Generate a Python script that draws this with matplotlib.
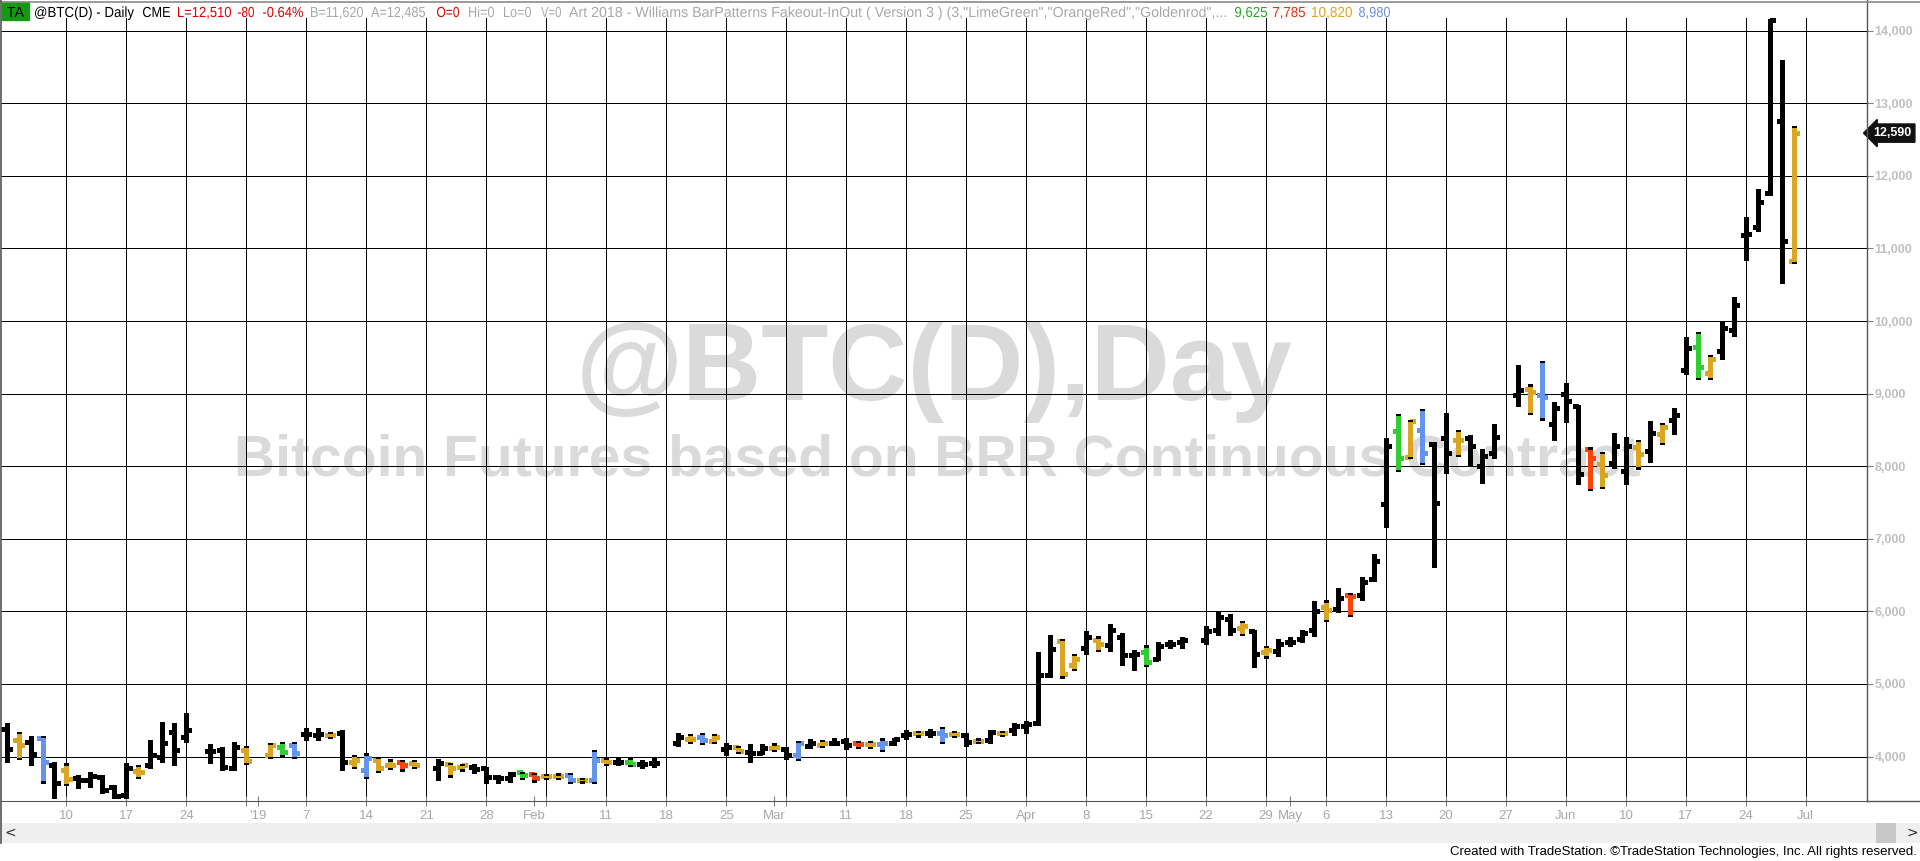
import numpy as np
import pandas as pd
import matplotlib
matplotlib.use('Agg')
import matplotlib.pyplot as plt
from matplotlib.lines import Line2D
from matplotlib.patches import Rectangle, PathPatch
from matplotlib.textpath import TextPath
from matplotlib.font_manager import FontProperties
from matplotlib.transforms import Affine2D

# ---- data (CME bitcoin futures, daily bars) ----
first_day = '2018-12-03'
last_day = '2019-06-28'
closed_days = ['2018-12-25', '2019-01-01', '2019-01-21',
               '2019-02-18', '2019-04-19', '2019-05-27']

opens = [4380, 4230, 4200, 4250, 3880,
         3815, 3700, 3680, 3720, 3575, 3470, 3805, 3883, 4000, 4340,
         4270, 4070, 4090, 3840, 4090, 4020, 4135, 4158,
         4305, 4300, 4300, 4320, 3930, 3815, 3950, 3883, 3930, 3905,
         3837, 3890, 3860, 3860, 3837, 3713, 3700, 3780, 3760,
         3730, 3735, 3745, 3680, 3677, 3950, 3930, 3930, 3890, 3910,
         4182, 4240, 4273, 4220, 4110, 4126, 4060, 4050, 4112,
         4099, 4020, 4150, 4160, 4190, 4218, 4185, 4170, 4170, 4190,
         4296, 4320, 4330, 4320, 4310, 4296, 4220, 4228, 4330, 4365,
         4420, 4455, 5120, 5592, 5257, 5500, 5601, 5532, 5647, 5395,
         5441, 5349, 5546, 5578, 5610, 5739, 5900, 5775, 5729,
         5441, 5454, 5578, 5624, 5739, 6060, 6030, 6229, 6229, 6444,
         7479, 8487, 8130, 8505, 8313, 8395, 8368, 8395, 8001, 8185,
         8977, 9069, 8977, 8579, 9000, 8826, 8244, 8029, 8040,
         7930, 8260, 8209, 8438, 8634, 9327, 9638, 9289, 9583, 9872,
         11181, 11290, 11764, 12762, 10826]
highs = [4460, 4342, 4282, 4282, 3930,
         3906, 3746, 3792, 3746, 3608, 3906, 3883, 4227, 4479, 4465,
         4594, 4172, 4135, 4204, 4145, 4190, 4204, 4204,
         4387, 4387, 4342, 4364, 4020, 4043, 3998, 3960, 3952, 3952,
         3960, 3915, 3897, 3897, 3860, 3746, 3792, 3792, 3777,
         3760, 3768, 3777, 3700, 4089, 3988, 3975, 3988, 3952, 3975,
         4319, 4310, 4328, 4310, 4190, 4144, 4172, 4172, 4181,
         4126, 4218, 4236, 4227, 4259, 4250, 4218, 4218, 4250, 4259,
         4365, 4355, 4374, 4410, 4355, 4328, 4250, 4365, 4355, 4456,
         4495, 5441, 5670, 5624, 5418, 5729, 5656, 5830, 5702, 5473,
         5532, 5578, 5610, 5647, 5794, 6005, 5959, 5867, 5748,
         5519, 5624, 5647, 5748, 6142, 6150, 6320, 6251, 6471, 6787,
         8382, 8716, 8634, 8794, 8336, 8734, 8496, 8427, 8244, 8579,
         9389, 9128, 9449, 8885, 9147, 8840, 8258, 8200, 8457,
         8398, 8365, 8618, 8602, 8798, 9779, 9856, 9529, 9981, 10336,
         11437, 11819, 14164, 13596, 12691]
lows = [3930, 3961, 3883, 3640, 3425,
        3608, 3563, 3576, 3493, 3425, 3425, 3700, 3837, 3930, 3883,
        4204, 3906, 3814, 3814, 3897, 3975, 3998, 3975,
        4227, 4227, 4250, 3814, 3837, 3700, 3790, 3825, 3805, 3837,
        3677, 3723, 3805, 3777, 3640, 3640, 3654, 3686, 3654,
        3686, 3686, 3630, 3640, 3631, 3883, 3883, 3870, 3837, 3860,
        4144, 4185, 4172, 4190, 4020, 4052, 3929, 4034, 4080,
        3961, 3952, 4112, 4126, 4158, 4099, 4112, 4112, 4080, 4158,
        4236, 4273, 4273, 4190, 4264, 4144, 4182, 4190, 4284, 4296,
        4328, 4432, 5097, 5088, 5188, 5418, 5454, 5454, 5257, 5198,
        5243, 5326, 5500, 5500, 5555, 5670, 5670, 5670, 5234,
        5363, 5381, 5519, 5578, 5656, 5870, 5995, 5940, 6160, 6412,
        7168, 7937, 8107, 8029, 6618, 7910, 8139, 8001, 7772, 8120,
        8826, 8716, 8643, 8368, 8611, 7754, 7672, 7700, 7973,
        7750, 7966, 8056, 8307, 8438, 9272, 9201, 9201, 9474, 9790,
        10837, 11235, 11743, 10526, 10799]
closes = [4110, 4160, 4040, 3930, 3630,
          3690, 3680, 3730, 3540, 3450, 3840, 3790, 4020, 4180, 4090,
          4370, 4070, 3860, 4135, 3940, 4158, 4066, 4052,
          4305, 4310, 4300, 3930, 3950, 3975, 3837, 3883, 3883, 3883,
          3906, 3837, 3880, 3825, 3713, 3700, 3760, 3750, 3710,
          3730, 3735, 3680, 3680, 3950, 3930, 3930, 3900, 3900, 3910,
          4273, 4240, 4227, 4273, 4130, 4080, 4050, 4112, 4130,
          4020, 4190, 4185, 4180, 4190, 4160, 4176, 4170, 4190, 4236,
          4310, 4320, 4330, 4300, 4310, 4204, 4220, 4342, 4330, 4420,
          4450, 5120, 5486, 5143, 5349, 5647, 5546, 5748, 5395, 5418,
          5303, 5519, 5546, 5610, 5729, 5922, 5739, 5794, 5418,
          5464, 5555, 5578, 5702, 6005, 6023, 6180, 6215, 6398, 6700,
          8276, 8120, 8624, 8185, 7497, 8185, 8368, 8276, 8139, 8404,
          9046, 9023, 8954, 8808, 8899, 7891, 8107, 7878, 8276,
          8276, 8175, 8454, 8547, 8711, 9627, 9365, 9474, 9899, 10226,
          11197, 11644, 14142, 11110, 12590]
# bar pattern colour per bar: k plain, g LimeGreen, r OrangeRed, y Goldenrod, b blue
signals = ("kykbk" + "ykkkkkykkkk" + "kkky" + "ygb" + "kkykybyyry"
           + "kyykkkkgryybybykgkk"
           + "kybykykkykbkykkrybkkykbykykykkkkyykykkkgkkk"
           + "kkkykykkkkykrkkkgybkkykkk"
           + "kybkkkrykkykykkgykkkkkky")

last_price = 12590
price_ticks = [4000, 5000, 6000, 7000, 8000, 9000, 10000, 11000, 12000, 13000, 14000]

monday_dates = ['2018-12-10', '2018-12-17', '2018-12-24', '2018-12-31', '2019-01-07',
                '2019-01-14', '2019-01-21', '2019-01-28', '2019-02-04', '2019-02-11',
                '2019-02-18', '2019-02-25', '2019-03-04', '2019-03-11', '2019-03-18',
                '2019-03-25', '2019-04-01', '2019-04-08', '2019-04-15', '2019-04-22',
                '2019-04-29', '2019-05-06', '2019-05-13', '2019-05-20', '2019-05-27',
                '2019-06-03', '2019-06-10', '2019-06-17', '2019-06-24', '2019-07-01']
monday_labels = ['10', '17', '24', '', '7', '14', '21', '28', '', '11', '18', '25', '',
                 '11', '18', '25', 'Apr', '8', '15', '22', '29', '6', '13', '20', '27',
                 'Jun', '10', '17', '24', 'Jul']
month_dates = ['2019-01-01', '2019-02-01', '2019-03-01', '2019-05-01']
month_labels = ["'19", 'Feb', 'Mar', 'May']

# status line of the chart window: (start px, end px, text, colour)
title_parts = [
    (35, 134, '@BTC(D) - Daily', 'black'), (143, 170, 'CME', 'black'),
    (178, 231, 'L=12,510', '#e00000'), (238, 254, '-80', '#e00000'),
    (263, 303, '-0.64%', '#e00000'),
    (311, 363, 'B=11,620', '#a8a8a8'), (371, 425, 'A=12,485', '#a8a8a8'),
    (437, 459, 'O=0', '#e00000'),
    (469, 494, 'Hi=0', '#a8a8a8'), (504, 531, 'Lo=0', '#a8a8a8'), (541, 561, 'V=0', '#a8a8a8'),
    (569, 1226, 'Art 2018 - Williams BarPatterns Fakeout-InOut ( Version 3 ) '
                '(3,"LimeGreen","OrangeRed","Goldenrod",...', '#a8a8a8'),
    (1235, 1267, '9,625', '#2aa52a'), (1273, 1305, '7,785', '#e83010'),
    (1312, 1352, '10,820', '#daa520'), (1359, 1390, '8,980', '#6d8fe0'),
]

# ---- layout ----
W, H = 1920, 861
sans = ['Liberation Sans', 'DejaVu Sans']
palette = {'k': '#000000', 'g': '#32cd32', 'r': '#ff4500', 'y': '#daa520', 'b': '#6495ed'}

dates = pd.bdate_range(first_day, last_day)
dates = dates[~dates.isin(pd.to_datetime(closed_days))]
origin = np.datetime64('2018-12-10')
def slot(d):
    return np.busday_count(origin, np.asarray(d, dtype='datetime64[D]'))
x = slot(dates.values.astype('datetime64[D]'))

fig = plt.figure(figsize=(W / 100, H / 100), dpi=100)
fig.patch.set_facecolor('white')

def fx(px):
    return px / W

def fy(py):
    return 1 - py / H

ax = fig.add_axes([fx(1), fy(801), fx(1866), (801 - 18) / H])
ax.set_xlim(-5.46, 150.1)
ax.set_ylim(3387, 14176)

# watermark
ax.text(0.4864, fy(372), '@BTC(D),Day', transform=fig.transFigure, ha='center', va='center',
        fontsize=79, fontweight='bold', color='#dadada', family=sans, zorder=0)
ax.text(0.488, fy(460), 'Bitcoin Futures based on BRR Continuous Contract', transform=fig.transFigure,
        ha='center', va='center', fontsize=41, fontweight='bold', color='#dadada',
        family=sans, zorder=0)

# OHLC bars
px_per_unit = (801 - 18) / (14176 - 3387)
cap = 1.2 / px_per_unit
for xi, o, h, l, c, s in zip(x, opens, highs, lows, closes, signals):
    col = palette[s]
    ax.vlines(xi, l, h, color=col, lw=2.3, zorder=3, antialiased=False)
    ax.hlines(o, xi - 0.42, xi, color=col, lw=2.3, zorder=3, antialiased=False)
    ax.hlines(c, xi, xi + 0.42, color=col, lw=2.3, zorder=3, antialiased=False)
    if s != 'k':
        ax.vlines([xi, xi], [h - cap, l], [h, l + cap], color='black', lw=2.3, zorder=4,
                  antialiased=False)

# grid and axes
ax.set_yticks(price_ticks)
ax.set_yticklabels([f'{p:,}' for p in price_ticks])
ax.yaxis.tick_right()
ax.tick_params(axis='y', direction='out', length=4, width=0.8, color='#808080',
               labelcolor='#c0c0c0', labelsize=9, pad=1.5)
for lab in ax.get_yticklabels():
    lab.set_fontweight('bold')
    lab.set_family(sans)

ax.set_xticks(slot(monday_dates))
ax.set_xticklabels(monday_labels)
ax.set_xticks(slot(month_dates), minor=True)
ax.set_xticklabels(month_labels, minor=True)
ax.tick_params(axis='x', which='both', direction='inout', length=7, width=0.8, color='#808080',
               labelcolor='#a8a8a8', labelsize=9.5, pad=3)
for lab in ax.get_xticklabels() + ax.get_xticklabels(minor=True):
    lab.set_family(sans)

ax.grid(True, which='major', color='black', lw=0.72, zorder=1)
ax.set_axisbelow(True)
for side in ['top', 'left', 'right']:
    ax.spines[side].set_visible(False)
ax.spines['bottom'].set_color('#555555')

# frame lines of the TradeStation window
fig.add_artist(Line2D([fx(1867), fx(1867)], [fy(0), fy(801)], color='#555555', lw=1))
fig.add_artist(Line2D([0, 1], [fy(1.5), fy(1.5)], color='#8a8a8a', lw=1.2))
fig.add_artist(Line2D([fx(0.8), fx(0.8)], [fy(0), fy(843)], color='#555555', lw=1.2))
fig.add_artist(Line2D([fx(1867), 1], [fy(801), fy(801)], color='#555555', lw=1))

# last price marker
ax.text(1.0035, last_price, f'{last_price:,}', transform=ax.get_yaxis_transform(),
        ha='left', va='center', fontsize=9, fontweight='bold', color='white',
        family=sans,
        bbox=dict(boxstyle='larrow,pad=0.25', fc='#111111', ec='#111111'))

# title strip, drawn as squeezed text paths so each piece fills its own slot
strip_font = FontProperties(family=sans)
def strip_text(x0, x1, s, color, size=14.6, base=17):
    tp = TextPath((0, 0), s, size=size, prop=strip_font)
    ext = tp.get_extents()
    sx = (x1 - x0) / ext.width
    tr = Affine2D().translate(-ext.x0, 0).scale(sx, 1).translate(x0, H - base)
    fig.add_artist(PathPatch(tp, transform=tr, facecolor=color, edgecolor='none', lw=0))

fig.add_artist(Rectangle((fx(2), fy(20)), fx(27), 18 / H, color='#129a12'))
strip_text(7, 24, 'TA', 'black')
for x0, x1, txt, col in title_parts:
    strip_text(x0, x1, txt, col)

# scroll bar and footer
fig.add_artist(Rectangle((fx(1), fy(843)), 1, 20 / H, color='#efefef', lw=0))
fig.add_artist(Rectangle((fx(1876), fy(843)), fx(20), 20 / H, color='#c8c8c8', lw=0))
fig.text(fx(4), fy(833), '<', fontsize=10, va='center', color='#333333', family='DejaVu Sans')
fig.text(fx(1907), fy(833), '>', fontsize=10, va='center', color='#333333', family='DejaVu Sans')
fig.text(fx(1917), fy(852), 'Created with TradeStation. \u00a9TradeStation Technologies, Inc. All rights reserved.',
         ha='right', va='center', fontsize=9.5, color='black', family=sans)

fig.savefig('out.png', dpi=100)
